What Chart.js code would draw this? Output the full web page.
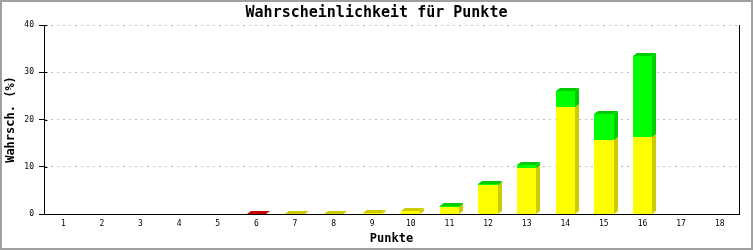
<!DOCTYPE html>
<html>
<head>
<meta charset="utf-8">
<script src="https://cdn.jsdelivr.net/npm/chart.js@4.4.1/dist/chart.umd.min.js"></script>
<style>
html,body{margin:0;padding:0;background:#fff;}
#wrap{width:753px;height:250px;}
</style>
</head>
<body>
<div id="wrap"><canvas id="c" width="753" height="250"></canvas></div>
<script>
const categories = ['1','2','3','4','5','6','7','8','9','10','11','12','13','14','15','16','17','18'];
const yellowValues = [0,0,0,0,0,0,0.1,0.1,0.3,0.6,1.5,6.2,9.8,22.7,15.7,16.3,0,0];
const greenValues  = [0,0,0,0,0,0,0,0,0,0,0.15,0.2,0.6,3.4,5.5,17.2,0,0];
const redValues    = [0,0,0,0,0,0.05,0,0,0,0,0,0,0,0,0,0,0,0];
const yTicks = [0,10,20,30,40];

const DX = 4, DY = 3;
const MONO = '"DejaVu Sans Mono", "Liberation Mono", monospace';

const bars3d = {
  id: 'bars3d',
  afterDatasetsDraw(chart) {
    const ctx = chart.ctx;
    ctx.save();
    chart.data.datasets.forEach((ds, di) => {
      const meta = chart.getDatasetMeta(di);
      meta.data.forEach((bar, i) => {
        const v = ds.data[i];
        if (!v) return;
        const p = bar.getProps(['x','y','base','width'], true);
        const l = Math.round(p.x - p.width/2), r = Math.round(p.x + p.width/2);
        const t = Math.round(p.y), b = Math.round(p.base);
        ctx.fillStyle = ds.sideColor;
        ctx.beginPath();
        ctx.moveTo(r, t); ctx.lineTo(r+DX, t-DY); ctx.lineTo(r+DX, b-DY); ctx.lineTo(r, b);
        ctx.closePath(); ctx.fill();
        ctx.beginPath();
        ctx.moveTo(l, t); ctx.lineTo(l+DX, t-DY); ctx.lineTo(r+DX, t-DY); ctx.lineTo(r, t);
        ctx.closePath(); ctx.fill();
        ctx.fillStyle = ds.frontColor;
        ctx.fillRect(l, t, r-l, b-t);
      });
    });
    ctx.restore();
  }
};

const frame = {
  id: 'frame',
  beforeDraw(chart) {
    const ctx = chart.ctx;
    ctx.save();
    ctx.fillStyle = '#fff';
    ctx.fillRect(0, 0, chart.width, chart.height);
    ctx.restore();
  },
  afterDraw(chart) {
    const ctx = chart.ctx, a = chart.chartArea, ys = chart.scales.y;
    ctx.save();
    // inner tick stubs
    ctx.strokeStyle = '#000';
    ctx.lineWidth = 1;
    const ax = Math.round(a.left) + 0.5;
    yTicks.forEach(v => {
      const py = Math.round(ys.getPixelForValue(v)) + 0.5;
      ctx.beginPath(); ctx.moveTo(ax, py); ctx.lineTo(ax + 3, py); ctx.stroke();
    });
    ctx.strokeStyle = '#a0a0a0';
    ctx.lineWidth = 2;
    ctx.strokeRect(1, 1, chart.width - 2, chart.height - 2);
    ctx.restore();
  }
};

function mk(label, data, front, side) {
  return {
    label, data, frontColor: front, sideColor: side,
    backgroundColor: 'rgba(0,0,0,0)', borderWidth: 0,
    categoryPercentage: 1.0, barPercentage: 0.5
  };
}

new Chart(document.getElementById('c'), {
  type: 'bar',
  data: {
    labels: categories,
    datasets: [
      mk('gelb', yellowValues, '#ffff00', '#cccc00'),
      mk('grün', greenValues, '#00ff00', '#00cc00'),
      mk('rot', redValues, '#ff0000', '#cc0000')
    ]
  },
  options: {
    responsive: false,
    animation: false,
    events: [],
    layout: { padding: 0 },
    plugins: {
      legend: { display: false },
      tooltip: { enabled: false },
      title: {
        display: true,
        text: 'Wahrscheinlichkeit für Punkte',
        color: '#000',
        font: { family: MONO, size: 15, weight: 'bold', lineHeight: 1.2 },
        padding: { top: 4, bottom: 3 }
      }
    },
    scales: {
      x: {
        stacked: true,
        grid: { display: false, drawTicks: false },
        border: { display: true, color: '#000', width: 1 },
        ticks: { color: '#000', font: { family: MONO, size: 8 }, padding: 5, maxRotation: 0, autoSkip: false },
        title: {
          display: true, text: 'Punkte', color: '#000',
          font: { family: MONO, size: 12, weight: 'bold', lineHeight: 1.2 },
          padding: { top: 0, bottom: 4 }
        },
        afterFit(s) { s.height = 36; }
      },
      y: {
        stacked: true,
        min: 0, max: 40,
        afterBuildTicks(s) { s.ticks = yTicks.map(v => ({ value: v })); },
        grid: {
          color: '#c0c0c0', lineWidth: 1,
          drawTicks: true, tickLength: 5, tickColor: '#000', tickWidth: 1
        },
        border: { display: true, color: '#000', width: 1, dash: [2, 4] },
        ticks: { color: '#000', font: { family: MONO, size: 8 }, padding: 5 },
        title: {
          display: true, text: 'Wahrsch. (%)', color: '#000',
          font: { family: MONO, size: 12, weight: 'bold', lineHeight: 1.2 },
          padding: { top: 4, bottom: 0 }
        },
        afterFit(s) { s.width = 44; }
      },
      yRight: {
        type: 'linear',
        position: 'right',
        min: 0, max: 40,
        grid: { display: false, drawTicks: false },
        border: { display: true, color: '#000', width: 1 },
        ticks: { display: false },
        afterFit(s) { s.width = 14; }
      }
    }
  },
  plugins: [frame, bars3d]
});
</script>
</body>
</html>
